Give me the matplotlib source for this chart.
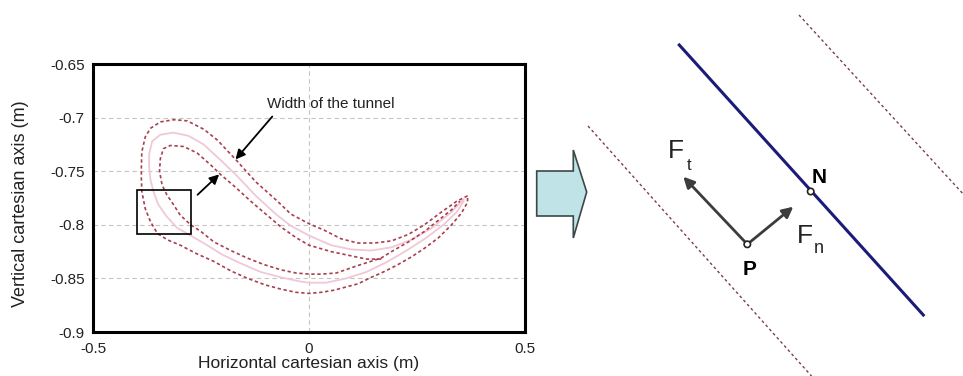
import numpy as np
import matplotlib
matplotlib.use("Agg")
import matplotlib.pyplot as plt
from matplotlib.patches import Polygon, Rectangle, Circle

plt.rcParams['font.family'] = ['Liberation Sans', 'DejaVu Sans']

# tunnel outer boundary (closed)
outer_x = [0.367, 0.342, 0.307, 0.267, 0.230, 0.191, 0.151, 0.113, 0.074, 0.035,
           0.000, -0.042, -0.073, -0.123, -0.170, -0.212, -0.243, -0.282, -0.313, -0.344,
           -0.367, -0.379, -0.387, -0.388, -0.388, -0.387, -0.379, -0.367, -0.351, -0.328,
           -0.298, -0.260, -0.221, -0.181, -0.142, -0.102, -0.065, -0.030, 0.000, 0.028,
           0.058, 0.086, 0.114, 0.144, 0.167, 0.202, 0.237, 0.267, 0.300, 0.330,
           0.353, 0.367, 0.367]
outer_y = [-0.773, -0.778, -0.788, -0.800, -0.809, -0.815, -0.817, -0.817, -0.813, -0.805,
           -0.799, -0.790, -0.778, -0.760, -0.739, -0.721, -0.711, -0.703, -0.702, -0.704,
           -0.710, -0.718, -0.732, -0.746, -0.757, -0.769, -0.785, -0.797, -0.808, -0.814,
           -0.819, -0.827, -0.834, -0.843, -0.850, -0.856, -0.860, -0.863, -0.864, -0.863,
           -0.861, -0.858, -0.855, -0.849, -0.845, -0.838, -0.830, -0.822, -0.812, -0.800,
           -0.789, -0.779, -0.773]

# tunnel inner boundary (starts at the neck, loops left, ends near the tip)
inner_x = [0.167, 0.133, 0.098, 0.051, 0.000, -0.030, -0.065, -0.100, -0.135, -0.170,
           -0.205, -0.228, -0.259, -0.290, -0.321, -0.337, -0.344, -0.346, -0.340, -0.329,
           -0.314, -0.298, -0.274, -0.251, -0.220, -0.181, -0.143, -0.105, -0.065, -0.030,
           0.001, 0.028, 0.063, 0.113, 0.167, 0.191, 0.230, 0.268, 0.302, 0.330, 0.349]
inner_y = [-0.832, -0.832, -0.829, -0.825, -0.819, -0.812, -0.802, -0.790, -0.778, -0.765,
           -0.753, -0.744, -0.733, -0.727, -0.726, -0.729, -0.738, -0.750, -0.763, -0.772,
           -0.781, -0.791, -0.800, -0.806, -0.816, -0.824, -0.831, -0.837, -0.842, -0.845,
           -0.846, -0.846, -0.845, -0.838, -0.831, -0.825, -0.816, -0.806, -0.795, -0.786,
           -0.778]

# centre path of the tunnel
center_x = [0.358, 0.330, 0.284, 0.237, 0.191, 0.144, 0.098, 0.051, 0.000, -0.042,
            -0.077, -0.123, -0.170, -0.209, -0.244, -0.279, -0.314, -0.344, -0.363, -0.370,
            -0.370, -0.367, -0.360, -0.349, -0.330, -0.305, -0.274, -0.240, -0.200, -0.158,
            -0.112, -0.065, -0.019, 0.000, 0.040, 0.086, 0.133, 0.179, 0.226, 0.272,
            0.314, 0.342, 0.358]
center_y = [-0.776, -0.788, -0.803, -0.814, -0.821, -0.824, -0.823, -0.819, -0.810, -0.801,
            -0.790, -0.773, -0.753, -0.738, -0.725, -0.717, -0.714, -0.716, -0.722, -0.734,
            -0.746, -0.758, -0.769, -0.781, -0.792, -0.803, -0.810, -0.818, -0.828, -0.836,
            -0.844, -0.849, -0.853, -0.854, -0.854, -0.850, -0.844, -0.835, -0.824, -0.812,
            -0.799, -0.788, -0.778]

box_x = [-0.397, -0.274]
box_y = [-0.809, -0.768]

label_pos = (0.05, -0.687)
arrow1 = [(-0.085, -0.699), (-0.170, -0.739)]
arrow2 = [(-0.258, -0.772), (-0.208, -0.753)]

xticks = [-0.5, 0, 0.5]
yticks = [-0.65, -0.7, -0.75, -0.8, -0.85, -0.9]
xtick_labels = ['-0.5', '0', '0.5']
ytick_labels = ['-0.65', '-0.7', '-0.75', '-0.8', '-0.85', '-0.9']

# right-hand sketch, in picture pixel units
block_arrow_x = [536.7, 573.3, 573.3, 586.7, 573.3, 573.3, 536.7]
block_arrow_y = [171, 171, 150, 192, 238, 216, 216]
blue_line_x = [679.3, 923.3]
blue_line_y = [45, 315]
dash_left_x = [588, 815]
dash_left_y = [126, 380]
dash_right_x = [799, 965]
dash_right_y = [15, 196]
point_N = (810.7, 191.5)
point_P = (747.3, 244.3)
ft_tip = (683.3, 176.7)
fn_tip = (793.3, 206.7)

fig = plt.figure(figsize=(9.63, 3.76), dpi=100)
ax = fig.add_axes([93 / 963, 1 - 332 / 376, 432 / 963, 268 / 376])

ax.plot(center_x, center_y, color='#f0c8d8', lw=1.3, zorder=2)
ax.plot(outer_x, outer_y, color='#a8404f', lw=1.2, ls=(0, (2, 1.6)), zorder=3)
ax.plot(inner_x, inner_y, color='#a8404f', lw=1.2, ls=(0, (2, 1.6)), zorder=3)

ax.add_patch(Rectangle((box_x[0], box_y[0]), box_x[1] - box_x[0], box_y[1] - box_y[0],
                       fill=False, ec='k', lw=1.2, zorder=4))

ax.text(label_pos[0], label_pos[1], 'Width of the tunnel', ha='center', va='center',
        fontsize=11, color='#222222')
for a in (arrow1, arrow2):
    ax.annotate('', xy=a[1], xytext=a[0],
                arrowprops=dict(arrowstyle='-|>', color='k', lw=1.3, mutation_scale=14,
                                shrinkA=0, shrinkB=0))

ax.set_xlim(-0.5, 0.5)
ax.set_ylim(-0.9, -0.65)
ax.set_xticks(xticks)
ax.set_xticklabels(xtick_labels)
ax.set_yticks(yticks)
ax.set_yticklabels(ytick_labels)
ax.tick_params(length=0, labelsize=11, colors='#222222')
ax.tick_params(axis='x', pad=7)
ax.tick_params(axis='y', pad=6)
ax.grid(True, color='#c4c4c4', ls=(0, (4, 3)), lw=0.8)
ax.set_axisbelow(True)
for s in ax.spines.values():
    s.set_linewidth(2.2)
ax.set_xlabel('Horizontal cartesian axis (m)', fontsize=12.5, color='#222222')
ax.set_ylabel('Vertical cartesian axis (m)', fontsize=13, color='#222222')
ax.xaxis.set_label_coords(0.5, -0.088)
ax.yaxis.set_label_coords(-0.148, 0.48)

# sketch axes spanning the whole figure
axd = fig.add_axes([0, 0, 1, 1], zorder=-1)
axd.set_xlim(0, 963)
axd.set_ylim(376, 0)
axd.axis('off')
axd.patch.set_alpha(0)

axd.add_patch(Polygon(list(zip(block_arrow_x, block_arrow_y)), closed=True,
                      fc='#bfe3e6', ec='#3c4848', lw=1.2))
axd.plot(dash_left_x, dash_left_y, color='#7a4048', lw=1.0, ls=(0, (2, 2)))
axd.plot(dash_right_x, dash_right_y, color='#7a4048', lw=1.0, ls=(0, (2, 2)))
axd.plot(blue_line_x, blue_line_y, color='#1c1c78', lw=2.2)

for tip in (ft_tip, fn_tip):
    axd.annotate('', xy=tip, xytext=point_P,
                 arrowprops=dict(arrowstyle='-|>', color='#3c3c3c', lw=2.0, mutation_scale=16,
                                 shrinkA=2, shrinkB=0))
for p in (point_N, point_P):
    axd.add_patch(Circle(p, 3.2, fc='white', ec='#222222', lw=1.2, zorder=5))

axd.text(812, 183, 'N', fontsize=15, fontweight='bold', ha='left', va='baseline')
axd.text(743, 275, 'P', fontsize=15, fontweight='bold', ha='left', va='baseline')
axd.text(668, 158, 'F', fontsize=19, ha='left', va='baseline', color='#222222')
axd.text(687, 170, 't', fontsize=12, ha='left', va='baseline', color='#222222')
axd.text(797, 243, 'F', fontsize=19, ha='left', va='baseline', color='#222222')
axd.text(814, 253, 'n', fontsize=13, ha='left', va='baseline', color='#222222')

fig.savefig('out.png', dpi=100)
